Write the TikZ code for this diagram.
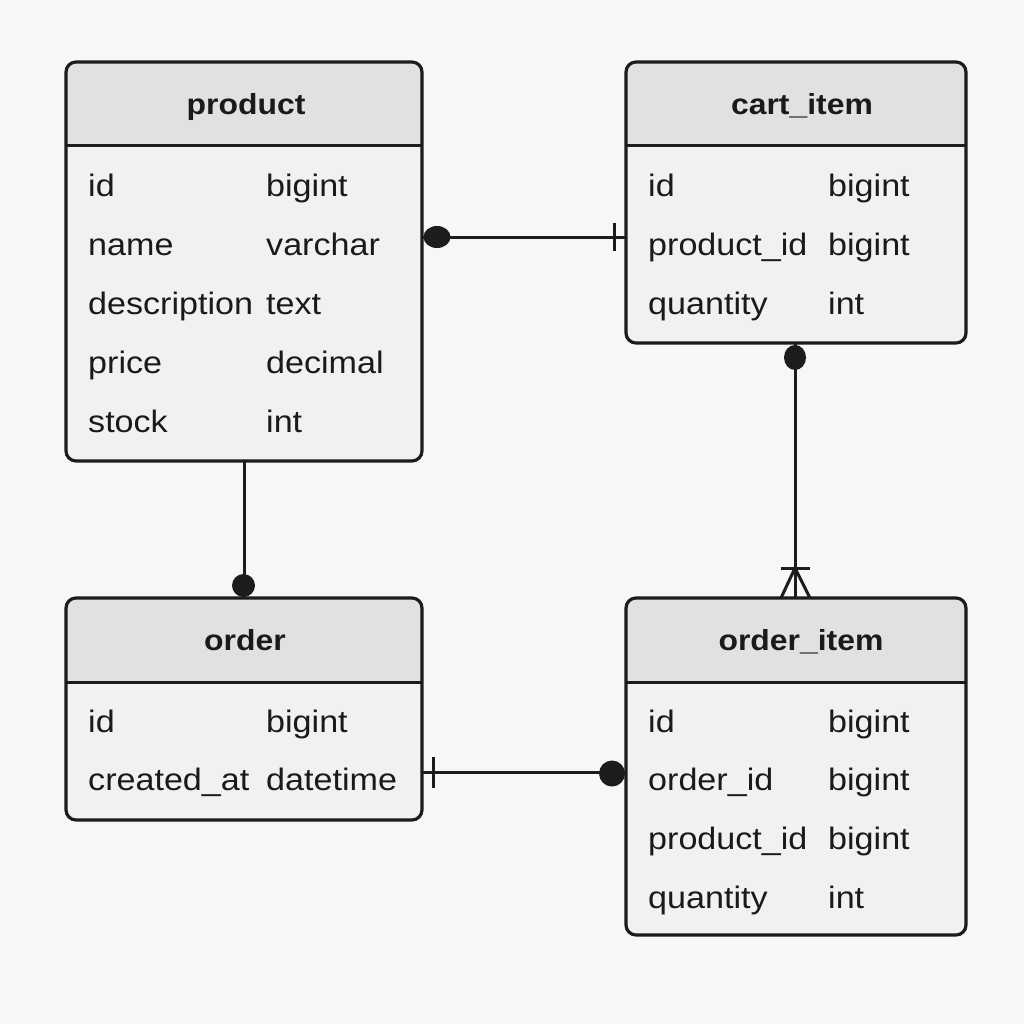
\documentclass[tikz,border=0pt]{standalone}
\usepackage{fontspec}
\setmainfont{Liberation Sans}[FakeStretch=1.1]
\definecolor{bgc}{HTML}{F7F7F7}
\definecolor{bodyc}{HTML}{F1F1F1}
\definecolor{hdrc}{HTML}{E1E1E1}
\definecolor{linec}{HTML}{1C1C1C}
\definecolor{txtc}{HTML}{1A1A1A}
\newcommand\erheader[1]{%
  \begin{scope}
    \clip[rounded corners=10pt] (#1.north west) rectangle (#1.south east);
    \fill[hdrc] (#1.north west) rectangle ([yshift=-84pt]#1.north east);
  \end{scope}
  \draw[sepline] ([yshift=-84pt]#1.north west) -- ([yshift=-84pt]#1.north east);
  \draw[frame] (#1.north west) rectangle (#1.south east);
}
\begin{document}
\begin{tikzpicture}[x=1pt,y=-1pt,
  tbl/.style={rectangle, rounded corners=10pt, fill=bodyc, inner sep=0pt, outer sep=0pt},
  frame/.style={draw=linec, line width=3.2pt, rounded corners=10pt},
  sepline/.style={draw=linec, line width=3pt},
  ttl/.style={anchor=base, inner sep=0pt, text=txtc, font=\fontsize{29}{30}\selectfont\bfseries},
  cell/.style={anchor=base west, inner sep=0pt, text=txtc, font=\fontsize{31}{34}\selectfont},
  conn/.style={draw=linec, line width=3pt},
  dotmark/.style={fill=linec},
  tick/.style={draw=linec, line width=3pt},
]
\fill[bgc] (0,0) rectangle (1024,1024);
\useasboundingbox (0,0) rectangle (1024,1024);

% tables
\node[tbl, minimum width=356pt, minimum height=399pt] (product) at (244,261.5) {};
\node[tbl, minimum width=340pt, minimum height=281pt] (cartitem) at (796,202.5) {};
\node[tbl, minimum width=356pt, minimum height=222pt] (order) at (244,709) {};
\node[tbl, minimum width=340pt, minimum height=337pt] (orderitem) at (796,766.5) {};
\erheader{product}
\erheader{cartitem}
\erheader{order}
\erheader{orderitem}

% titles
\node[ttl] (product-t) at (246,115) {product};
\node[ttl] (cartitem-t) at (802,115) {cart\_item};
\node[ttl] (order-t) at (245,650) {order};
\node[ttl] (orderitem-t) at (801,650) {order\_item};

% product rows
\node[cell] (p1a) at (88,197) {id};          \node[cell] (p1b) at (266,197) {bigint};
\node[cell] (p2a) at (88,255) {name};        \node[cell] (p2b) at (266,255) {varchar};
\node[cell] (p3a) at (88,314) {description}; \node[cell] (p3b) at (266,314) {text};
\node[cell] (p4a) at (88,373) {price};       \node[cell] (p4b) at (266,373) {decimal};
\node[cell] (p5a) at (88,432) {stock};       \node[cell] (p5b) at (266,432) {int};

% cart_item rows
\node[cell] (c1a) at (648,197) {id};          \node[cell] (c1b) at (828,197) {bigint};
\node[cell] (c2a) at (648,255) {product\_id}; \node[cell] (c2b) at (828,255) {bigint};
\node[cell] (c3a) at (648,314) {quantity};    \node[cell] (c3b) at (828,314) {int};

% order rows
\node[cell] (o1a) at (88,732) {id};          \node[cell] (o1b) at (266,732) {bigint};
\node[cell] (o2a) at (88,790) {created\_at}; \node[cell] (o2b) at (266,790) {datetime};

% order_item rows
\node[cell] (i1a) at (648,732) {id};          \node[cell] (i1b) at (828,732) {bigint};
\node[cell] (i2a) at (648,790) {order\_id};   \node[cell] (i2b) at (828,790) {bigint};
\node[cell] (i3a) at (648,849) {product\_id}; \node[cell] (i3b) at (828,849) {bigint};
\node[cell] (i4a) at (648,908) {quantity};    \node[cell] (i4b) at (828,908) {int};

% helper coordinates
\coordinate (ya) at (0,237);
\coordinate (yb) at (0,772);
\coordinate (xa) at (795,0);
\coordinate (xb) at (244,0);

% product -- cart_item
\draw[conn] (product.east |- ya) -- (cartitem.west |- ya);
\fill[dotmark] (437,237) ellipse [x radius=13.5pt, y radius=11pt];
\draw[tick] (614,223) -- (614,251);

% cart_item -- order_item
\draw[conn] (cartitem.south -| xa) -- (orderitem.north -| xa);
\fill[dotmark] (795,357.5) ellipse [x radius=11pt, y radius=12.5pt];
\draw[tick] (781,568) -- (810,568);
\draw[tick] (781,598) -- (795,568) -- (810,598);

% product -- order
\draw[conn] (product.south -| xb) -- (order.north -| xb);
\fill[dotmark] (243.5,585.5) circle [radius=11.5pt];

% order -- order_item
\draw[conn] (order.east |- yb) -- (orderitem.west |- yb);
\draw[tick] (433,757) -- (433,788);
\fill[dotmark] (612,773.5) circle [radius=13pt];
\fill[dotmark] (612,760.5) -- (626,772) -- (612,786.5) -- cycle;
\end{tikzpicture}
\end{document}
